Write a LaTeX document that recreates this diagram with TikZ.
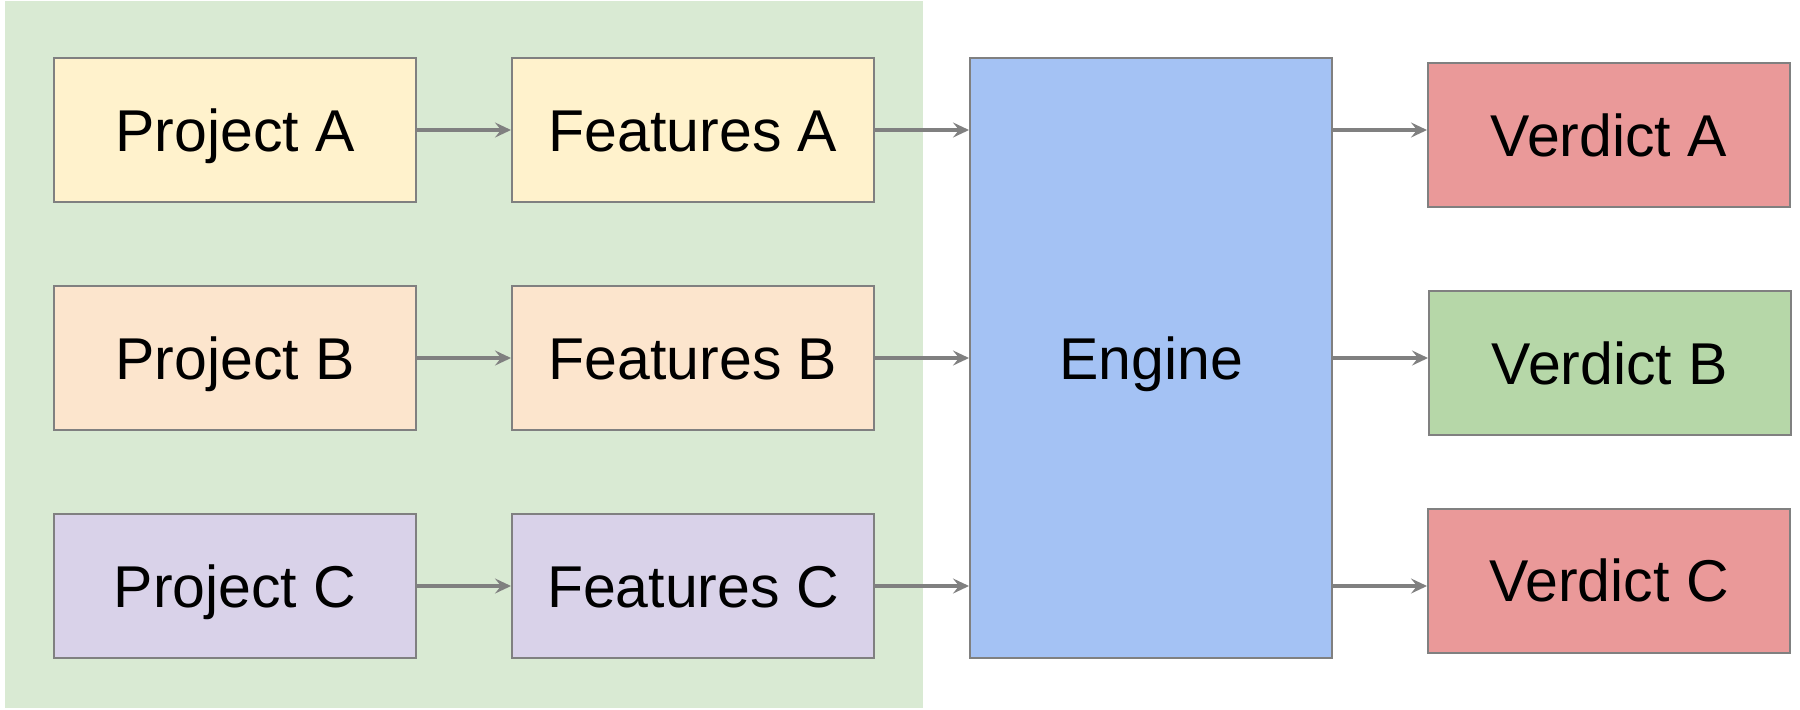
\documentclass[tikz,border=0pt]{standalone}
\usepackage{fontspec}
\setmainfont{Liberation Sans}
\usetikzlibrary{arrows.meta}
\definecolor{bggreen}{HTML}{D9EAD3}
\definecolor{cyellow}{HTML}{FFF2CC}
\definecolor{corange}{HTML}{FCE5CD}
\definecolor{cpurple}{HTML}{D9D2E9}
\definecolor{cblue}{HTML}{A4C2F4}
\definecolor{cred}{HTML}{EA9999}
\definecolor{cgreen}{HTML}{B6D7A8}
\definecolor{edge}{HTML}{808080}
\tikzset{
  box/.style={draw=edge, line width=1pt, minimum width=181pt, minimum height=72pt,
    inner sep=0pt, text height=21.2pt, text depth=0pt,
    font=\fontsize{29.5}{35}\selectfont, text=black},
  conn/.style={draw=edge, line width=1.75pt, -{Stealth[length=8pt,width=7.5pt,inset=3pt]}}
}
\begin{document}
\begin{tikzpicture}[x=0.5pt,y=-0.5pt]
\useasboundingbox (0,0) rectangle (1800,709);
\fill[white] (0,0) rectangle (1800,709);
\node[fill=bggreen, minimum width=459pt, minimum height=353.5pt, inner sep=0pt] (bg) at (464,354.5) {};
\node[box, fill=cyellow] (pa) at (235,130) {Project A};
\node[box, fill=cyellow] (fa) at (693,130) {Features A};
\node[box, fill=corange] (pb) at (235,358) {Project B};
\node[box, fill=corange] (fb) at (693,358) {Features B};
\node[box, fill=cpurple] (pc) at (235,586) {Project C};
\node[box, fill=cpurple] (fc) at (693,586) {Features C};
\node[box, fill=cblue, minimum height=300pt] (en) at (1151,358) {Engine};
\node[box, fill=cred] (va) at (1609,135) {Verdict A};
\node[box, fill=cgreen] (vb) at (1610,363) {Verdict B};
\node[box, fill=cred] (vc) at (1609,580.5) {Verdict C};
\draw[conn] (pa) -- (fa);
\draw[conn] (pb) -- (fb);
\draw[conn] (pc) -- (fc);
\draw[conn] (fa.east) -- (fa.east -| en.west);
\draw[conn] (fb.east) -- (fb.east -| en.west);
\draw[conn] (fc.east) -- (fc.east -| en.west);
\draw[conn] (en.east |- fa.east) -- (va.west |- fa.east);
\draw[conn] (en.east |- fb.east) -- (vb.west |- fb.east);
\draw[conn] (en.east |- fc.east) -- (vc.west |- fc.east);
\end{tikzpicture}
\end{document}
